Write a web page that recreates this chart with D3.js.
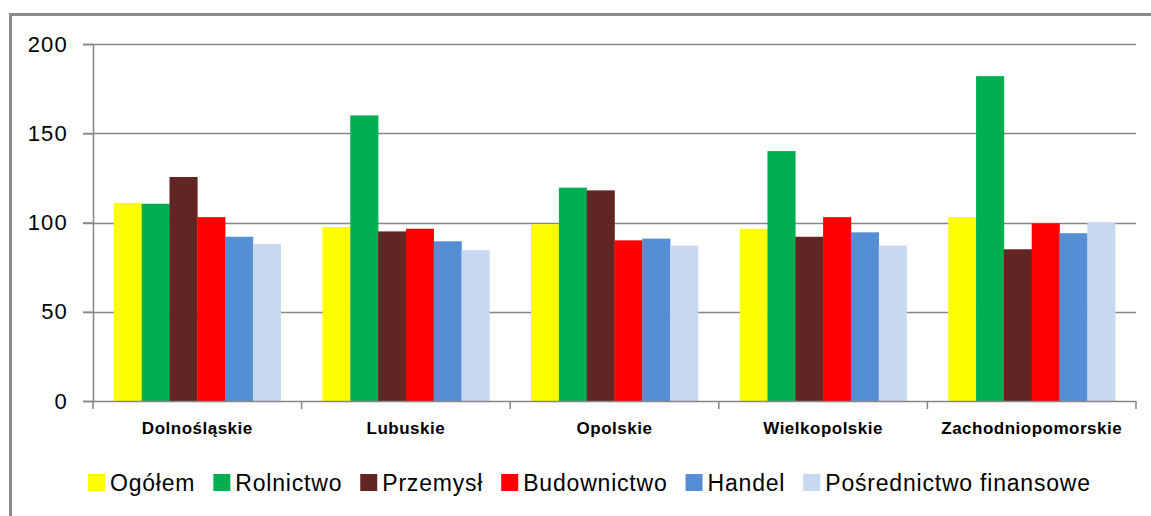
<!DOCTYPE html>
<html><head><meta charset="utf-8">
<script src="https://cdn.jsdelivr.net/npm/d3@7"></script>
<style>html,body{margin:0;padding:0;background:#fff;}svg{display:block;}</style>
</head><body>
<script>
const categories = ["Dolnośląskie","Lubuskie","Opolskie","Wielkopolskie","Zachodniopomorskie"];
const seriesNames = ["Ogółem","Rolnictwo","Przemysł","Budownictwo","Handel","Pośrednictwo finansowe"];
const ogolem      = [111, 97.5, 99, 96.5, 103];
const rolnictwo   = [110.5, 160, 119.5, 140, 182];
const przemysl    = [125.5, 95, 118, 92, 85];
const budownictwo = [103, 96.5, 90, 103, 99.5];
const handel      = [92, 89.5, 91, 94.5, 94];
const posrednictwo= [88, 84.5, 87, 87, 100];
const seriesValues = [ogolem, rolnictwo, przemysl, budownictwo, handel, posrednictwo];
const colors = ["#FFFF00","#00B050","#632523","#FF0000","#558ED5","#C6D9F1"];
const yTicks = [0,50,100,150,200];

(function(){
const W=1151,H=516;
const svg=d3.select("body").append("svg").attr("width",W).attr("height",H);
const font="'Liberation Sans', Arial, sans-serif";

// outer frame (top and left only visible)
svg.append("line").attr("x1",9.5).attr("x2",W).attr("y1",14.5).attr("y2",14.5).attr("stroke","#898989").attr("stroke-width",3);
svg.append("line").attr("x1",10.5).attr("x2",10.5).attr("y1",13).attr("y2",H).attr("stroke","#898989").attr("stroke-width",3);

const pl=93,pr=1136,pt=44,pb=401;
const x=d3.scaleBand().domain(categories).range([pl,pr]).padding(0);
const xi=d3.scaleBand().domain(seriesNames).range([x.bandwidth()*0.1,x.bandwidth()*0.9]).padding(0);
const y=d3.scaleLinear().domain([0,200]).range([pb,pt]);

// gridlines
svg.append("g").selectAll("line").data(yTicks.filter(d=>d>0)).join("line")
  .attr("x1",pl-10).attr("x2",pr).attr("y1",d=>Math.round(y(d))+0.5).attr("y2",d=>Math.round(y(d))+0.5)
  .attr("stroke","#868686").attr("stroke-width",1.5);

// bars
const g=svg.append("g");
seriesNames.forEach((s,si)=>{
  g.append("g").selectAll("rect").data(categories).join("rect")
   .attr("x",c=>x(c)+xi(s)).attr("width",xi.bandwidth()+0.3)
   .attr("y",(c,i)=>y(seriesValues[si][i])).attr("height",(c,i)=>y(0)-y(seriesValues[si][i]))
   .attr("fill",colors[si]);
});

// y axis
const ya=svg.append("g").attr("transform",`translate(${pl},0)`)
  .call(d3.axisLeft(y).tickValues(yTicks).tickSize(10).tickPadding(15));
ya.select(".domain").attr("stroke","#868686").attr("stroke-width",1.5).attr("d",`M0.5,${pt}V${pb}`);
ya.selectAll(".tick line").attr("stroke","#868686").attr("stroke-width",1.5);
ya.selectAll(".tick text").attr("font-family",font).attr("font-size",22).attr("letter-spacing","1.2px").attr("fill","#000");

// x axis
const xa=svg.append("g").attr("transform",`translate(0,${pb})`)
  .call(d3.axisBottom(x).tickSize(0).tickPadding(21));
xa.select(".domain").attr("stroke","#868686").attr("stroke-width",1.5).attr("d",`M${pl-10},0.5H${pr}`);
xa.selectAll(".tick text").attr("font-family",font).attr("font-size",17).attr("font-weight","bold")
  .attr("letter-spacing","0.5px").attr("fill","#000");
xa.append("g").selectAll("line").data(categories.map(c=>x(c)+x.bandwidth()).concat([pl]))
  .join("line").attr("x1",d=>d).attr("x2",d=>d).attr("y1",0).attr("y2",8)
  .attr("stroke","#868686").attr("stroke-width",1.5);

// legend
const leg=svg.append("g");
let lx=88;
seriesNames.forEach((s,i)=>{
  leg.append("rect").attr("x",lx).attr("y",474).attr("width",17).attr("height",17).attr("fill",colors[i]);
  const t=leg.append("text").attr("x",lx+22).attr("y",482.5).attr("dy","0.35em")
    .attr("font-family",font).attr("font-size",23).attr("letter-spacing","0.8px").attr("fill","#000").text(s);
  lx+=22+t.node().getComputedTextLength()+18;
});
})();
</script>
</body></html>
